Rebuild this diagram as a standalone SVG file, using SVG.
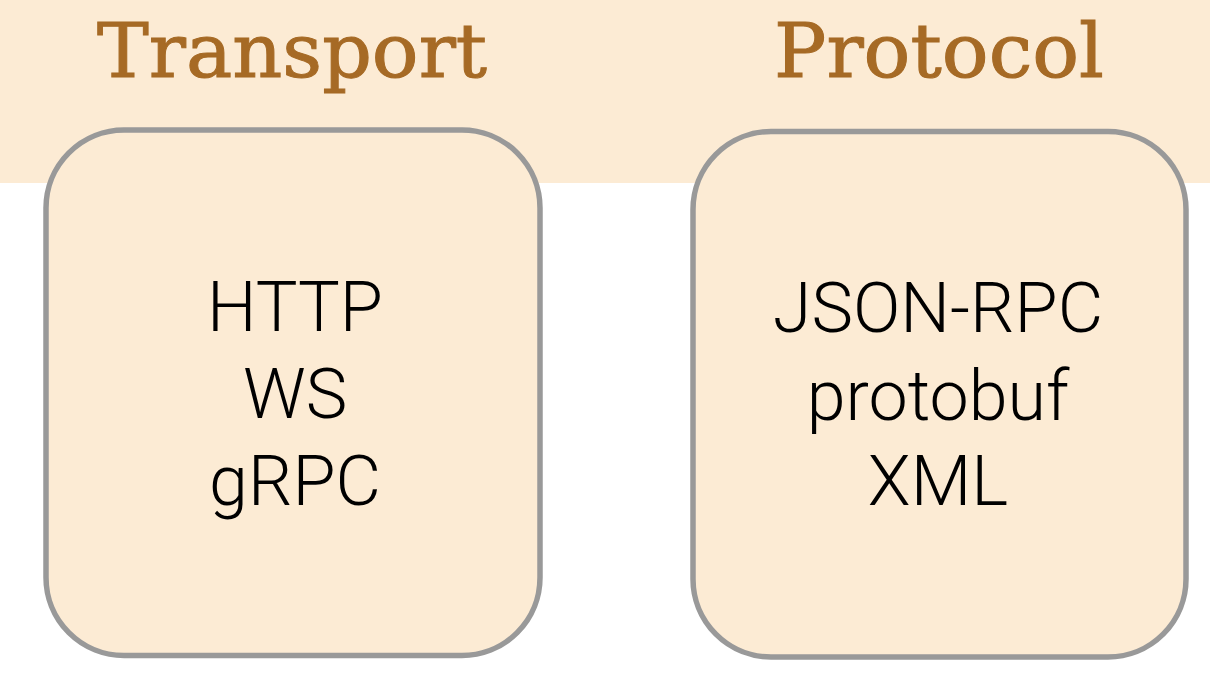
<svg xmlns="http://www.w3.org/2000/svg" width="1210" height="684" viewBox="0 0 1210 684">
  <style>
    .band { fill: #fcebd4; }
    .title { font-family: "DejaVu Serif", "Liberation Serif", serif; font-size: 74px; fill: #a66a25; text-anchor: middle; stroke: #a66a25; stroke-width: 1; }
    .box { fill: #fcebd4; stroke: #999999; stroke-width: 5.5; }
    .item { font-family: Roboto, "Open Sans", sans-serif; font-weight: 300; font-size: 70px; fill: #000000; text-anchor: middle; }
  </style>
  <rect class="band" x="0" y="0" width="1210" height="183"/>
  <g id="titles">
    <text class="title" x="292" y="77" textLength="390" lengthAdjust="spacingAndGlyphs">Transport</text>
    <text class="title" x="939" y="77" textLength="330" lengthAdjust="spacingAndGlyphs">Protocol</text>
  </g>
  <g id="transport">
    <rect class="box" x="46" y="130" width="494" height="525.5" rx="78" ry="78"/>
    <text class="item" x="295" y="331">HTTP</text>
    <text class="item" x="295" y="418">WS</text>
    <text class="item" x="295" y="505">gRPC</text>
  </g>
  <g id="protocol">
    <rect class="box" x="693" y="131.5" width="493" height="525.5" rx="78" ry="78"/>
    <text class="item" x="938" y="332">JSON-RPC</text>
    <text class="item" x="938" y="420">protobuf</text>
    <text class="item" x="938" y="505">XML</text>
  </g>
  <g id="connectors"/>
</svg>
